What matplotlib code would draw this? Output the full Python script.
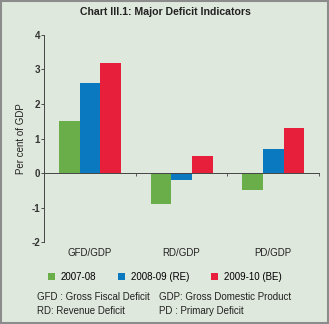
import matplotlib
matplotlib.use("Agg")
import matplotlib.pyplot as plt
from matplotlib.patches import Patch, Rectangle
from matplotlib.transforms import blended_transform_factory
import numpy as np

plt.rcParams['font.family'] = ['Liberation Sans', 'DejaVu Sans']

categories = ["GFD/GDP", "RD/GDP", "PD/GDP"]
series_names = ["2007-08", "2008-09 (RE)", "2009-10 (BE)"]
v_2007 = [1.5, -0.9, -0.5]
v_2008 = [2.6, -0.2, 0.7]
v_2009 = [3.2, 0.5, 1.3]
yticks = [-2, -1, 0, 1, 2, 3, 4]
colors = ["#6aae4a", "#0a79bf", "#e81f3b"]

bg = "#dfe8dc"
fig = plt.figure(figsize=(3.29, 3.24), dpi=100, facecolor=bg)
fig.patches.append(Rectangle((0.004, 0.004), 0.992, 0.992, transform=fig.transFigure,
                             fill=False, edgecolor="#8c8c8c", lw=1.5))

ax = fig.add_axes([0.134, 0.253, 0.836, 0.639])
ax.set_facecolor(bg)

x = np.arange(len(categories))
w = 0.225
for i, vals in enumerate([v_2007, v_2008, v_2009]):
    ax.bar(x + (i - 1) * w, vals, width=w, color=colors[i], label=series_names[i])

ax.set_xlim(-0.5, 2.5)
ax.set_ylim(-2, 4)
ax.set_yticks(yticks)
ax.set_yticklabels([str(t) for t in yticks], fontsize=7, fontweight='bold', color="#333333")
ax.tick_params(axis='y', length=2, width=0.6, pad=1, colors="#333333")
ax.spines['top'].set_visible(False)
ax.spines['right'].set_visible(False)
ax.spines['left'].set_linewidth(0.7)
ax.spines['left'].set_color("#444444")
ax.spines['bottom'].set_position(('data', 0))
ax.spines['bottom'].set_linewidth(0.7)
ax.spines['bottom'].set_color("#444444")
ax.set_xticks([0.5, 1.5, 2.5])
ax.set_xticklabels([])
ax.tick_params(axis='x', length=2, width=0.6, direction='out', colors="#444444")

trans = blended_transform_factory(ax.transData, ax.transAxes)
for xi, c in zip(x, categories):
    ax.text(xi, -0.03, c, transform=trans, ha='center', va='top', fontsize=7, color="#222222")

ax.set_ylabel("Per cent of GDP", fontsize=7, color="#222222", labelpad=4)

fig.text(0.502, 0.962, "Chart III.1: Major Deficit Indicators", ha='center', va='center',
         fontsize=7.6, fontweight='bold', color="#222222")

handles = [Patch(facecolor=c, edgecolor='none') for c in colors]
fig.legend(handles, series_names, loc='center', bbox_to_anchor=(0.5, 0.145), ncol=3,
           frameon=False, fontsize=7, handlelength=0.75, handleheight=0.75,
           handletextpad=0.6, columnspacing=2.2)

fig.text(0.113, 0.083, "GFD : Gross Fiscal Deficit", fontsize=7, va='center', color="#222222")
fig.text(0.482, 0.083, "GDP: Gross Domestic Product", fontsize=7, va='center', color="#222222")
fig.text(0.113, 0.040, "RD: Revenue Deficit", fontsize=7, va='center', color="#222222")
fig.text(0.482, 0.040, "PD : Primary Deficit", fontsize=7, va='center', color="#222222")

fig.savefig("out.png", dpi=100, facecolor=bg)
